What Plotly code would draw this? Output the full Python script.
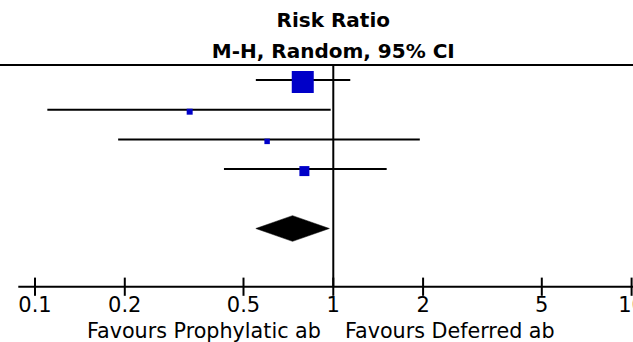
import numpy as np
import plotly.graph_objects as go

# Individual study estimates (risk ratio, 95% CI) and weights (%)
rr = [0.79, 0.33, 0.60, 0.80]
ci_low = [0.55, 0.11, 0.19, 0.43]
ci_high = [1.14, 0.98, 1.95, 1.51]
weights = [74.5, 5.5, 4.6, 15.4]
study_rows = [1, 2, 3, 4]

# Pooled random-effects estimate
pooled_rr = 0.73
pooled_low = 0.55
pooled_high = 0.97
pooled_row = 6

# Axis ticks
tick_vals = [0.1, 0.2, 0.5, 1, 2, 5, 10]
tick_labels = ["0.1", "0.2", "0.5", "1", "2", "5", "10"]

title_lines = ["Risk Ratio", "M-H, Random, 95% CI"]
favours_left = "Favours Prophylatic ab"
favours_right = "Favours Deferred ab"

# Layout geometry (row units on y, log10 units on x)
X_RANGE = [-1.1173, 1.0047]
Y_RANGE = [9.8215, -1.6936]
TOP_ROW = 0.495
AXIS_ROW = 7.96
AXIS_START = 10 ** -1.056
FONT = "DejaVu Sans"
BLUE = "#0000c8"

x_left, x_right = 10 ** X_RANGE[0], 10 ** X_RANGE[1]

fig = go.Figure()

# header rule and line of no effect
fig.add_trace(go.Scatter(x=[x_left, x_right], y=[TOP_ROW, TOP_ROW], mode="lines",
                         line=dict(color="black", width=2), hoverinfo="skip"))
fig.add_trace(go.Scatter(x=[1, 1], y=[TOP_ROW, AXIS_ROW], mode="lines",
                         line=dict(color="black", width=2), hoverinfo="skip"))

# confidence interval whiskers
for lo, hi, row in zip(ci_low, ci_high, study_rows):
    fig.add_trace(go.Scatter(x=[lo, hi], y=[row, row], mode="lines",
                             line=dict(color="black", width=2), hoverinfo="skip"))

# weighted squares (area proportional to weight)
sizes = [2.55 * np.sqrt(w) for w in weights]
fig.add_trace(go.Scatter(
    x=rr, y=[r + 0.067 for r in study_rows], mode="markers",
    marker=dict(symbol="square", size=sizes, color=BLUE, opacity=1,
                line=dict(width=0)),
    hoverinfo="skip"))

# pooled diamond
h = 0.433
fig.add_trace(go.Scatter(
    x=[pooled_low, pooled_rr, pooled_high, pooled_rr, pooled_low],
    y=[pooled_row, pooled_row - h, pooled_row, pooled_row + h, pooled_row],
    mode="lines", fill="toself", fillcolor="black",
    line=dict(color="black", width=0.5), hoverinfo="skip"))

# x axis line, crossing tick marks and tick labels
fig.add_trace(go.Scatter(x=[AXIS_START, x_right], y=[AXIS_ROW, AXIS_ROW], mode="lines",
                         line=dict(color="black", width=2), hoverinfo="skip"))
fig.add_trace(go.Scatter(x=tick_vals, y=[AXIS_ROW] * len(tick_vals), mode="markers",
                         marker=dict(symbol="line-ns", size=13,
                                     line=dict(color="black", width=2)),
                         hoverinfo="skip"))
fig.add_trace(go.Scatter(x=tick_vals, y=[8.62] * len(tick_vals), mode="text",
                         text=tick_labels, textposition="middle center",
                         textfont=dict(family=FONT, size=21, color="black"),
                         hoverinfo="skip"))

# column heading
fig.add_trace(go.Scatter(x=[1, 1], y=[-0.963, 0.074], mode="text",
                         text=[f"<b>{t}</b>" for t in title_lines],
                         textposition="middle center",
                         textfont=dict(family=FONT, size=20, color="black"),
                         hoverinfo="skip", cliponaxis=False))

# favours labels either side of the line of no effect
fig.add_annotation(x=0, y=9.46, xref="x", yref="y", text=favours_left,
                   xanchor="right", yanchor="middle", xshift=-10, showarrow=False,
                   font=dict(family=FONT, size=20.7, color="black"))
fig.add_annotation(x=0, y=9.46, xref="x", yref="y", text=favours_right,
                   xanchor="left", yanchor="middle", xshift=10, showarrow=False,
                   font=dict(family=FONT, size=20.7, color="black"))

fig.update_layout(
    width=633, height=342,
    margin=dict(l=0, r=0, t=0, b=0),
    paper_bgcolor="white", plot_bgcolor="white",
    showlegend=False,
    xaxis=dict(type="log", range=X_RANGE, visible=False, fixedrange=True),
    yaxis=dict(range=Y_RANGE, visible=False, fixedrange=True),
)

fig.write_html("out.html")
